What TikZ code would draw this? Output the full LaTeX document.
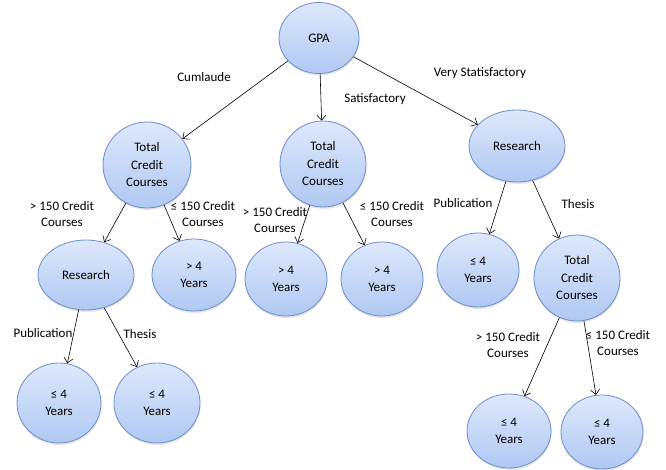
\documentclass[tikz,border=0pt]{standalone}
\usepackage{fontspec}
\setmainfont{Carlito}
\usetikzlibrary{shapes.geometric,shadows,arrows.meta}

\definecolor{filltop}{RGB}{222,232,251}
\definecolor{fillbot}{RGB}{176,200,242}
\definecolor{rim}{RGB}{104,142,204}

\tikzset{
  leaf/.style={ellipse, draw=rim, line width=0.8pt, top color=filltop, bottom color=fillbot,
    align=center, inner sep=0pt, font=\fontsize{13}{17.5}\selectfont,
    drop shadow={opacity=0.2, shadow xshift=0.5pt, shadow yshift=-2pt}},
  lbl/.style={align=center, font=\fontsize{13}{16}\selectfont, inner sep=0pt},
  arr/.style={-{Straight Barb[length=5pt, width=9pt]}, line width=0.6pt}
}

\begin{document}
\begin{tikzpicture}[x=1pt, y=-1pt]
            \useasboundingbox (0, 0) rectangle (666, 470);
            \node[leaf, minimum width=80, minimum height=71] (gpa) at (319, 38) {GPA};
            \node[leaf, minimum width=88, minimum height=86] (tccA) at (147, 165) {Total\\Credit\\Courses};
            \node[leaf, minimum width=86, minimum height=86] (tccB) at (323, 164) {Total\\Credit\\Courses};
            \node[leaf, minimum width=96, minimum height=72] (resC) at (517, 146) {Research};
            \node[leaf, minimum width=96, minimum height=70] (resA) at (86, 275) {Research};
            \node[leaf, minimum width=84, minimum height=72] (yrsA) at (194, 275) {> 4\\Years};
            \node[leaf, minimum width=82, minimum height=74] (yrsB) at (286, 279) {> 4\\Years};
            \node[leaf, minimum width=82, minimum height=74] (yrsC) at (382, 279) {> 4\\Years};
            \node[leaf, minimum width=82, minimum height=74] (yrsD) at (478, 270) {≤ 4\\Years};
            \node[leaf, minimum width=86, minimum height=86] (tccC) at (577, 278) {Total\\Credit\\Courses};
            \node[leaf, minimum width=84, minimum height=80] (yrsE) at (59, 403) {≤ 4\\Years};
            \node[leaf, minimum width=86, minimum height=80] (yrsF) at (157, 403) {≤ 4\\Years};
            \node[leaf, minimum width=84, minimum height=74] (yrsG) at (509, 431) {≤ 4\\Years};
            \node[leaf, minimum width=82, minimum height=74] (yrsH) at (602, 432) {≤ 4\\Years};
            \draw[arr] (gpa) -- (tccA);
            \draw[arr] (gpa) -- (tccB);
            \draw[arr] (gpa) -- (resC);
            \draw[arr] (tccA) -- (resA);
            \draw[arr] (tccA) -- (yrsA);
            \draw[arr] (tccB) -- (yrsB);
            \draw[arr] (tccB) -- (yrsC);
            \draw[arr] (resC) -- (yrsD);
            \draw[arr] (resC) -- (tccC);
            \draw[arr] (resA) -- (yrsE);
            \draw[arr] (resA) -- (yrsF);
            \draw[arr] (tccC) -- (yrsG);
            \draw[arr] (tccC) -- (yrsH);
            \node[lbl] (cum) at (204, 77) {Cumlaude};
            \node[lbl] (sat) at (375, 99) {Satisfactory};
            \node[lbl] (vsat) at (480, 73) {Very Statisfactory};
            \node[lbl] (gtA) at (62, 214) {> 150 Credit\\Courses};
            \node[lbl] (leA) at (203, 214) {≤ 150 Credit\\Courses};
            \node[lbl] (gtB) at (275, 220) {> 150 Credit\\Courses};
            \node[lbl] (leB) at (392, 214) {≤ 150 Credit\\Courses};
            \node[lbl] (pubC) at (463, 203) {Publication};
            \node[lbl] (thC) at (578, 204) {Thesis};
            \node[lbl] (pubA) at (43, 333) {Publication};
            \node[lbl] (thA) at (140, 334) {Thesis};
            \node[lbl] (gtC) at (508, 345) {> 150 Credit\\Courses};
            \node[lbl] (leC) at (618, 343) {≤ 150 Credit\\Courses};
        \end{tikzpicture}
\end{document}
